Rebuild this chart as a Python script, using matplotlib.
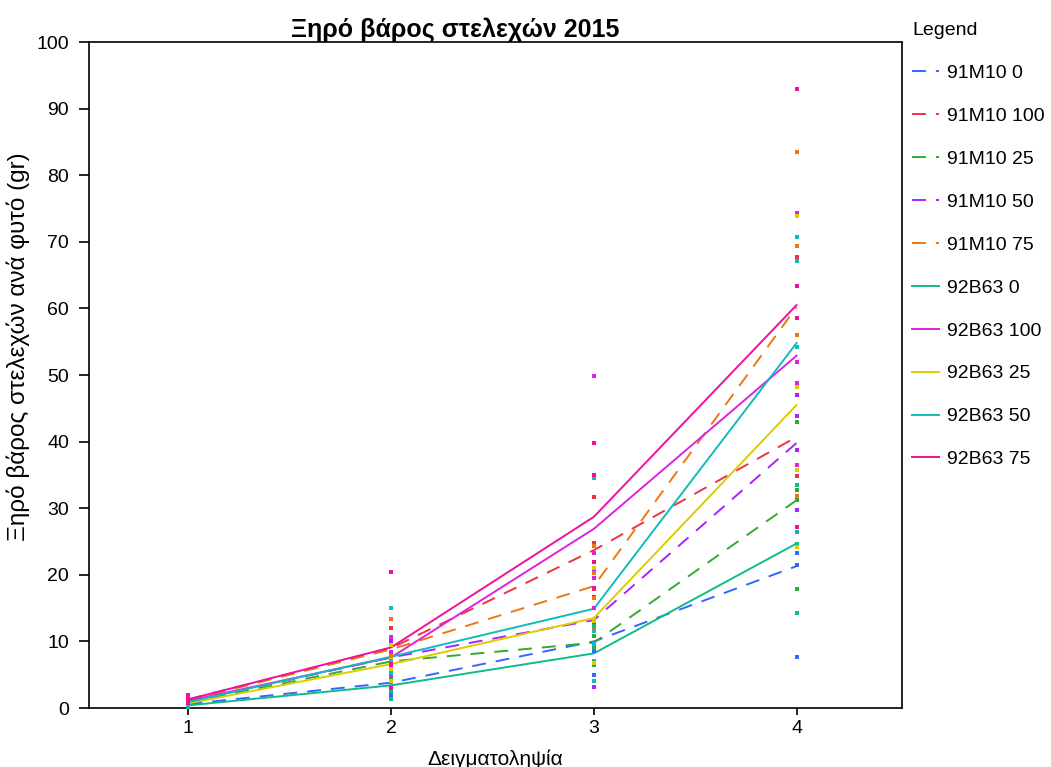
import numpy as np
import matplotlib
matplotlib.use("Agg")
import matplotlib.pyplot as plt

plt.rcParams['font.family'] = ['Liberation Sans', 'DejaVu Sans']
plt.rcParams['lines.scale_dashes'] = False

samplings = [1, 2, 3, 4]
x_ticks = [1, 2, 3, 4]
y_ticks = [0, 10, 20, 30, 40, 50, 60, 70, 80, 90, 100]

series_names = ["91M10 0", "91M10 100", "91M10 25", "91M10 50", "91M10 75",
                "92B63 0", "92B63 100", "92B63 25", "92B63 50", "92B63 75"]
series_colors = ["#3366ff", "#ee3344", "#33aa33", "#aa22ff", "#ee7711",
                 "#11bb88", "#dd22dd", "#ddcc00", "#11bbbb", "#ee1199"]

# Dry stem weight per plant (gr), four plants per sampling
m10_0 = [[0.3, 0.5, 0.7, 0.9], [2.0, 3.0, 4.5, 5.7], [5.0, 8.5, 11.5, 15.0], [7.7, 21.5, 23.3, 32.7]]
m10_100 = [[0.9, 1.2, 1.4, 1.7], [6.0, 8.0, 10.0, 12.0], [17.8, 20.5, 24.8, 31.7], [24.5, 34.8, 35.8, 67.7]]
m10_25 = [[0.5, 0.7, 0.9, 1.1], [4.5, 6.5, 7.5, 9.5], [6.5, 9.0, 10.8, 12.9], [17.9, 31.2, 32.7, 43.0]]
m10_50 = [[0.6, 0.8, 1.0, 1.2], [5.0, 7.0, 8.4, 10.0], [3.2, 12.5, 16.6, 20.5], [29.7, 38.7, 43.8, 47.0]]
m10_75 = [[0.8, 1.1, 1.3, 1.6], [6.0, 7.8, 8.0, 13.4], [12.0, 16.5, 20.3, 24.4], [31.9, 56.0, 69.4, 83.5]]
b63_0 = [[0.2, 0.3, 0.5, 0.6], [1.4, 2.6, 3.8, 5.8], [4.0, 7.0, 9.5, 12.3], [14.3, 24.6, 26.4, 33.5]]
b63_100 = [[0.7, 1.0, 1.2, 1.5], [4.8, 6.6, 8.4, 10.6], [15.0, 19.5, 23.3, 49.8], [36.5, 48.8, 52.0, 74.3]]
b63_25 = [[0.4, 0.6, 0.8, 1.0], [4.0, 5.8, 7.2, 9.4], [6.8, 13.0, 13.2, 21.0], [24.2, 35.7, 48.2, 73.9]]
b63_50 = [[0.5, 0.8, 1.0, 1.3], [3.5, 5.3, 7.0, 15.0], [4.0, 9.6, 11.5, 34.5], [27.2, 54.2, 67.1, 70.7]]
b63_75 = [[0.8, 1.1, 1.3, 2.0], [3.0, 6.4, 6.6, 20.4], [18.0, 22.0, 35.0, 39.8], [27.2, 58.5, 63.4, 92.9]]

series_data = [m10_0, m10_100, m10_25, m10_50, m10_75,
               b63_0, b63_100, b63_25, b63_50, b63_75]

fig = plt.figure(figsize=(10.51, 7.67), dpi=100)
ax = fig.add_axes([0.0847, 0.0769, 0.7735, 0.8683])

handles = []
for name, color, data in zip(series_names, series_colors, series_data):
    means = [np.mean(v) for v in data]
    if name.startswith("91M10"):
        line, = ax.plot(samplings, means, color=color, lw=1.4,
                        dashes=(10, 7.2), label=name, zorder=2)
    else:
        line, = ax.plot(samplings, means, color=color, lw=1.4,
                        label=name, zorder=2)
    handles.append(line)

# individual plants, plotted as small squares on each sampling
for color, data in zip(series_colors, series_data):
    for xv, vals in zip(samplings, data):
        ax.scatter([xv] * len(vals), vals, marker='s', s=10, color=color,
                   linewidths=0, zorder=3)

ax.set_xlim(0.51, 4.52)
ax.set_ylim(0, 100)
ax.set_xticks(x_ticks)
ax.set_yticks(y_ticks)
ax.tick_params(axis='both', direction='out', labelsize=14, width=1.2, colors='black')
ax.tick_params(axis='y', length=7, pad=7.5)
ax.tick_params(axis='x', length=5)
for sp in ax.spines.values():
    sp.set_linewidth(1.2)
    sp.set_color('black')

ax.set_title("Ξηρό βάρος στελεχών 2015", fontsize=18, fontweight='bold',
             x=0.45, pad=4)
ax.set_xlabel("Δειγματοληψία", fontsize=15, labelpad=9)
fig.text(18 / 1051, 1 - 347 / 767, "Ξηρό βάρος στελεχών ανά φυτό (gr)",
         fontsize=17.5, rotation=90, ha='center', va='center')

leg = fig.legend(handles=handles, loc='upper left', bbox_to_anchor=(0.856, 0.9876),
                 frameon=False, fontsize=14, title="Legend", title_fontsize=14,
                 alignment='left', handlelength=1.35, handletextpad=0.4,
                 labelspacing=1.3, borderpad=0.66, borderaxespad=0)

fig.savefig("out.png", dpi=100)
